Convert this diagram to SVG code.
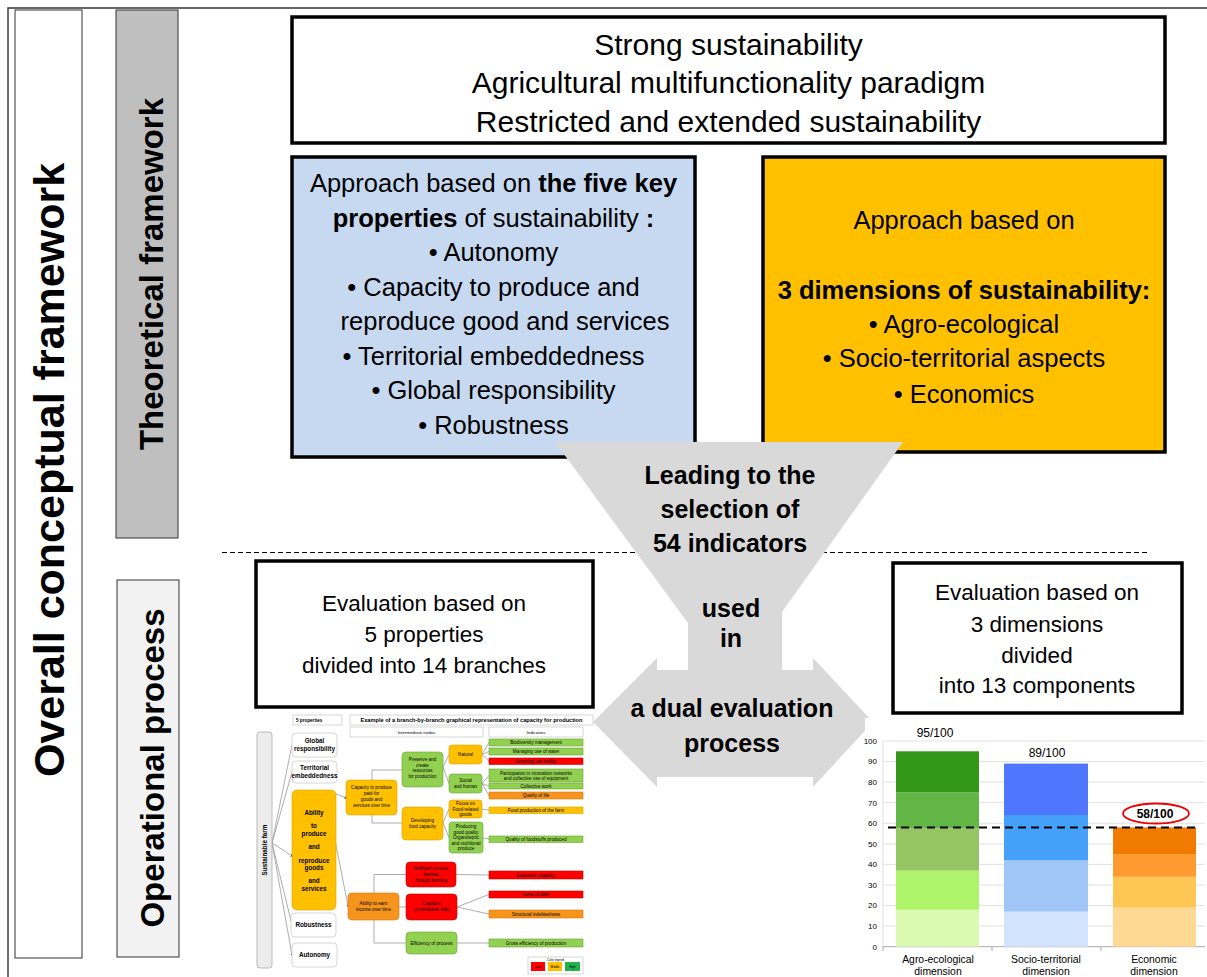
<svg xmlns="http://www.w3.org/2000/svg" width="1207" height="977" viewBox="0 0 1207 977">
<style>
text{font-family:"Liberation Sans",Arial,sans-serif;fill:#000}
.c{text-anchor:middle}
.b{font-weight:bold}
.big{stroke:#000;stroke-width:3.5}
.ln{stroke:#999;stroke-width:0.8;fill:none}
.tn{font-size:4.6px}
.tb{font-size:6.3px;font-weight:bold}
.g{fill:#92d050;stroke:#6aa336;stroke-width:0.6}
.o{fill:#ffc000;stroke:#d9a300;stroke-width:0.6}
.do{fill:#f7941d;stroke:#d07a10;stroke-width:0.6}
.r{fill:#ff0000;stroke:#c00000;stroke-width:0.6}
.w{fill:#fff;stroke:#ccc;stroke-width:0.8}
.grid{stroke:#d9d9d9;stroke-width:0.8}
.ax{font-size:8px;text-anchor:end;fill:#333}
</style>
<defs>
<marker id="dot" markerWidth="3" markerHeight="3" refX="1.5" refY="1.5" orient="auto" markerUnits="userSpaceOnUse"><path d="M0,0 L3,1.5 L0,3 z" fill="#555"/></marker>
</defs>

<g id="frame">
<path d="M8,977 V8 H1207" fill="none" stroke="#333" stroke-width="1.4"/>
<rect x="15" y="10" width="67" height="948" fill="#fff" stroke="#333" stroke-width="1"/>
<text class="b c" font-size="43" transform="translate(64,470) rotate(-90)">Overall conceptual framework</text>
</g>

<g id="theoretical-label">
<rect x="116" y="10" width="62" height="528" fill="#bfbfbf" stroke="#333" stroke-width="1"/>
<text class="b c" font-size="33" transform="translate(163,274) rotate(-90)">Theoretical framework</text>
</g>

<g id="operational-label">
<rect x="117" y="580" width="62" height="377" fill="#f2f2f2" stroke="#333" stroke-width="1"/>
<text class="b c" font-size="33" transform="translate(164,768) rotate(-90)">Operational process</text>
</g>

<g id="paradigms">
<rect class="big" x="292" y="17" width="873" height="126" fill="#fff"/>
<text class="c" font-size="30" x="728.5" y="55">Strong sustainability</text>
<text class="c" font-size="30" x="728.5" y="93">Agricultural multifunctionality paradigm</text>
<text class="c" font-size="30" x="728.5" y="132">Restricted and extended sustainability</text>
</g>

<g id="five-properties">
<rect class="big" x="292" y="157" width="403" height="300" fill="#c6d9f1"/>
<g font-size="25.5">
<text class="c" x="493.5" y="192">Approach based on <tspan font-weight="bold">the five key</tspan></text>
<text class="c" x="493.5" y="227"><tspan font-weight="bold">properties</tspan> of sustainability <tspan font-weight="bold">:</tspan></text>
<text class="c" x="493.5" y="261">•  Autonomy</text>
<text class="c" x="493.5" y="296">•  Capacity to produce and</text>
<text class="c" x="505" y="330">reproduce good and services</text>
<text class="c" x="493.5" y="365">•  Territorial embeddedness</text>
<text class="c" x="493.5" y="399">•  Global responsibility</text>
<text class="c" x="493.5" y="434">•  Robustness</text>
</g>
</g>

<g id="three-dimensions">
<rect class="big" x="763" y="157" width="402" height="295" fill="#ffc000"/>
<g font-size="25.5">
<text class="c" x="964" y="229">Approach based on</text>
<text class="c b" x="964" y="299">3 dimensions of sustainability:</text>
<text class="c" x="964" y="333">•  Agro-ecological</text>
<text class="c" x="964" y="367">•  Socio-territorial aspects</text>
<text class="c" x="964" y="403">•  Economics</text>
</g>
</g>

<g id="connectors">
<line x1="222" y1="552.5" x2="1150" y2="552.5" stroke="#000" stroke-width="1" stroke-dasharray="5 3"/>
</g>

<g id="eval-properties">
<rect class="big" x="256" y="561" width="337" height="146" fill="#fff"/>
<g font-size="22.5">
<text class="c" x="424" y="611">Evaluation based on</text>
<text class="c" x="424" y="642">5 properties</text>
<text class="c" x="424" y="673">divided into 14 branches</text>
</g>
</g>

<g id="eval-dimensions">
<rect class="big" x="893" y="563" width="289" height="150" fill="#fff"/>
<g font-size="22.5">
<text class="c" x="1037" y="600">Evaluation based on</text>
<text class="c" x="1037" y="632">3 dimensions</text>
<text class="c" x="1037" y="663">divided</text>
<text class="c" x="1037" y="693">into 13 components</text>
</g>
</g>

<g id="funnel">
<polygon points="555,442 903,442 782,612 782,670 813,670 813,658 873,722 813,787 813,777 657,777 657,787 593,722 657,658 657,670 688,670 688,623" fill="#d9d9d9"/>
<g font-size="25" font-weight="bold">
<text class="c" x="730" y="484">Leading to the</text>
<text class="c" x="730" y="518">selection of</text>
<text class="c" x="730" y="552">54 indicators</text>
<text class="c" x="731" y="617">used</text>
<text class="c" x="731" y="647">in</text>
<text class="c" x="732" y="717">a dual evaluation</text>
<text class="c" x="732" y="752">process</text>
</g>
</g>

<g id="tree">
<g id="tree-headers">
<rect class="w" x="293" y="715" width="49" height="10"/>
<text class="b" font-size="4.6" x="296" y="721.6">5 properties</text>
<rect class="w" x="350" y="715" width="243" height="10"/>
<text class="b c" font-size="5" x="471.5" y="721.8" textLength="222" lengthAdjust="spacingAndGlyphs">Example  of a branch-by-branch  graphical  representation  of capacity  for production</text>
<rect class="w" x="350" y="727" width="133" height="10"/>
<text class="c" font-size="4.4" x="416.5" y="733.5">Intermediate nodes</text>
<rect class="w" x="489" y="727" width="94" height="10"/>
<text class="c" font-size="4.4" x="536" y="733.5">Indicators</text>
</g>
<g id="tree-lines">
<path class="ln" d="M272,843 L292,745 M272,843 L292,772 M272,843 L292,925 M272,843 L292,955" marker-end="url(#dot)"/>
<path class="ln" d="M272,843 L292,856" marker-end="url(#dot)"/>
<path class="ln" d="M334,793 L346,798" marker-end="url(#dot)"/>
<path class="ln" d="M334,835 L348,906" marker-end="url(#dot)"/>
<path class="ln" d="M372,770 V823 M372,770 H402 M372,823 H402 M374,874.5 V943 M374,874.5 H406 M374,943 H406 M399,907 H406"/>
<path class="ln" d="M443,767 L449,754.5 M443,767 L449,783.5 M443,823 L449,809 M443,823 L449,837.5"/>
<path class="ln" d="M482,754.5 L489,742.5 M482,754.5 L489,751.5 M482,754.5 L489,761 M482,783.5 L489,775.5 M482,783.5 L489,786 M482,783.5 L489,795.5 M482,809 L489,810 M483,838 L489,839"/>
<path class="ln" d="M456,874.5 L489,875 M457,907 L489,894.5 M457,907 L489,914 M457,943 L489,943"/>
</g>
<g id="sustainable-farm">
<rect x="257" y="732" width="15" height="236" rx="3" fill="#ececec" stroke="#aaa" stroke-width="0.8"/>
<text class="b c" font-size="6.3" transform="translate(266.5,850) rotate(-90)">Sustainable farm</text>
</g>
<g id="p-global"><rect class="w" x="292" y="733" width="45" height="24" rx="4"/>
<text class="tb c" x="314.5" y="743">Global</text><text class="tb c" x="314.5" y="751">responsibility</text></g>
<g id="p-territorial"><rect class="w" x="292" y="761" width="45" height="22" rx="4"/>
<text class="tb c" x="314.5" y="770">Territorial</text><text class="tb c" x="314.5" y="778">embeddedness</text></g>
<g id="p-ability"><rect class="o" x="292" y="790" width="44" height="120" rx="5"/>
<g class="tb"><text class="c" x="314" y="815">Ability</text><text class="c" x="314" y="828">to</text><text class="c" x="314" y="835.5">produce</text>
<text class="c" x="314" y="849">and</text><text class="c" x="314" y="863">reproduce</text><text class="c" x="314" y="869.5">goods</text>
<text class="c" x="314" y="883">and</text><text class="c" x="314" y="890.5">services</text></g></g>
<g id="p-robustness"><rect class="w" x="291" y="913" width="45" height="24" rx="4"/>
<text class="tb c" x="313.5" y="927">Robustness</text></g>
<g id="p-autonomy"><rect class="w" x="292" y="943" width="45" height="24" rx="4"/>
<text class="tb c" x="314.5" y="957">Autonomy</text></g>

<g id="n-capacity"><rect class="o" x="346" y="780" width="51" height="35" rx="4"/>
<g class="tn"><text class="c" x="371.5" y="789">Capacity to produce</text><text class="c" x="371.5" y="795">paid-for</text><text class="c" x="371.5" y="801">goods and</text><text class="c" x="371.5" y="807">services over time</text></g></g>
<g id="n-earn"><rect class="do" x="348" y="893" width="51" height="27" rx="4"/>
<g class="tn"><text class="c" x="373.5" y="905">Ability to earn</text><text class="c" x="373.5" y="911">income over time</text></g></g>
<g id="n-preserve"><rect class="g" x="402" y="752" width="41" height="35" rx="4"/>
<g class="tn"><text class="c" x="422.5" y="761">Preserve and</text><text class="c" x="422.5" y="766.5">create</text><text class="c" x="422.5" y="772">resources</text><text class="c" x="422.5" y="777.5">for production</text></g></g>
<g id="n-developing"><rect class="o" x="402" y="807" width="41" height="33" rx="4"/>
<g class="tn"><text class="c" x="422.5" y="822">Developing</text><text class="c" x="422.5" y="828">food capacity</text></g></g>
<g id="n-sufficient"><rect class="r" x="406" y="862" width="50" height="25" rx="4"/>
<g class="tn"><text class="c" x="431" y="870">Sufficient income</text><text class="c" x="431" y="876">derived</text><text class="c" x="431" y="882">through farming</text></g></g>
<g id="n-reimburse"><rect class="r" x="406" y="894" width="51" height="26" rx="4"/>
<g class="tn"><text class="c" x="431.5" y="905">Capacity</text><text class="c" x="431.5" y="911">to reimburse debt</text></g></g>
<g id="n-efficiency"><rect class="g" x="406" y="932" width="51" height="22" rx="4"/>
<text class="tn c" x="431.5" y="944.5">Efficiency of process</text></g>

<g id="n-natural"><rect class="o" x="449" y="745" width="33" height="19" rx="3"/><text class="tn c" x="465.5" y="756">Natural</text></g>
<g id="n-social"><rect class="g" x="449" y="774" width="33" height="19" rx="3"/>
<text class="tn c" x="465.5" y="782">Social</text><text class="tn c" x="465.5" y="788">and human</text></g>
<g id="n-focus"><rect class="o" x="449" y="800" width="33" height="18" rx="3"/>
<text class="tn c" x="465.5" y="805">Focus on</text><text class="tn c" x="465.5" y="810.5">Food-related</text><text class="tn c" x="465.5" y="816">goods</text></g>
<g id="n-producing"><rect class="g" x="449" y="822" width="34" height="31" rx="3"/>
<g class="tn"><text class="c" x="466" y="828">Producing</text><text class="c" x="466" y="833.5">good quality</text><text class="c" x="466" y="839">Organoleptic</text><text class="c" x="466" y="844.5">and nutritional</text><text class="c" x="466" y="850">produce</text></g></g>

<g id="indicators" class="tn">
<rect class="g" x="489" y="739" width="94" height="7"/><text class="c" x="536" y="744.3">Biodiversity management</text>
<rect class="g" x="489" y="748" width="94" height="7"/><text class="c" x="536" y="753.3">Managing use of water</text>
<rect class="r" x="489" y="758" width="94" height="6.5"/><text class="c" x="536" y="763">Ensuring soil fertility</text>
<rect class="g" x="489" y="769" width="94" height="13"/><text class="c" x="536" y="774.5">Participation in innovation networks</text><text class="c" x="536" y="779.8">and collective use of equipment</text>
<rect class="g" x="489" y="783" width="94" height="6"/><text class="c" x="536" y="787.8">Collective work</text>
<rect class="do" x="489" y="792" width="94" height="7"/><text class="c" x="536" y="797.3">Quality of life</text>
<rect class="o" x="489" y="807" width="94" height="6.5"/><text class="c" x="536" y="812">Food production of the farm</text>
<rect class="g" x="489" y="836" width="94" height="6.5"/><text class="c" x="536" y="841">Quality of foodstuffs produced</text>
<rect class="r" x="489" y="871" width="94" height="8"/><text class="c" x="536" y="876.8">Economic capacity</text>
<rect class="r" x="489" y="891" width="94" height="7"/><text class="c" x="536" y="896.3">Level of debt</text>
<rect class="do" x="489" y="910" width="94" height="8"/><text class="c" x="536" y="915.8">Structural  indebtedness</text>
<rect class="g" x="489" y="939" width="94" height="8"/><text class="c" x="536" y="944.8">Gross efficiency of production</text>
</g>
<g id="legend">
<rect class="w" x="528" y="957" width="55" height="17"/>
<text class="c" font-size="3" x="555.5" y="960.5">Color legend</text>
<rect x="531" y="962" width="14" height="9" fill="#ff0000"/><text class="c" font-size="3" x="538" y="967.5">Low</text>
<rect x="548" y="962" width="14" height="9" fill="#ffc000"/><text class="c" font-size="3" x="555" y="967.5">Middle</text>
<rect x="565" y="962" width="15" height="9" fill="#22b14c"/><text class="c" font-size="3" x="572.5" y="967.5">High</text>
</g>
</g>

<g id="chart">
<rect x="865" y="718" width="342" height="259" fill="#fff"/>
<g class="grid">
<line x1="883" y1="741" x2="1205" y2="741"/><line x1="883" y1="761.6" x2="1205" y2="761.6"/>
<line x1="883" y1="782.1" x2="1205" y2="782.1"/><line x1="883" y1="802.7" x2="1205" y2="802.7"/>
<line x1="883" y1="823.3" x2="1205" y2="823.3"/><line x1="883" y1="843.9" x2="1205" y2="843.9"/>
<line x1="883" y1="864.4" x2="1205" y2="864.4"/><line x1="883" y1="885" x2="1205" y2="885"/>
<line x1="883" y1="905.6" x2="1205" y2="905.6"/><line x1="883" y1="926.1" x2="1205" y2="926.1"/>
<line x1="883" y1="741" x2="883" y2="947"/>
</g>
<line x1="883" y1="946.7" x2="1205" y2="946.7" stroke="#aaa" stroke-width="1"/>
<path d="M883,947 V951 M992,947 V951 M1101,947 V951" stroke="#aaa" stroke-width="1"/>
<g class="ax">
<text x="877" y="743.8">100</text><text x="877" y="764.4">90</text><text x="877" y="784.9">80</text>
<text x="877" y="805.5">70</text><text x="877" y="826.1">60</text><text x="877" y="846.7">50</text>
<text x="877" y="867.2">40</text><text x="877" y="887.8">30</text><text x="877" y="908.4">20</text>
<text x="877" y="928.9">10</text><text x="877" y="949.5">0</text>
</g>
<g id="bar-agro">
<rect x="896" y="909.7" width="83" height="37" fill="#dcf9b1"/>
<rect x="896" y="870.6" width="83" height="39.1" fill="#aef46a"/>
<rect x="896" y="828.4" width="83" height="42.2" fill="#95c563"/>
<rect x="896" y="792.4" width="83" height="36" fill="#62b645"/>
<rect x="896" y="751.3" width="83" height="41.1" fill="#339818"/>
</g>
<g id="bar-socio">
<rect x="1004" y="911.7" width="84" height="35" fill="#d2e4fd"/>
<rect x="1004" y="860.3" width="84" height="51.4" fill="#a0c6f8"/>
<rect x="1004" y="815" width="84" height="45.3" fill="#44a0f8"/>
<rect x="1004" y="763.6" width="84" height="51.4" fill="#4e77fe"/>
</g>
<g id="bar-eco">
<rect x="1113" y="907.6" width="83" height="39.1" fill="#fdd993"/>
<rect x="1113" y="876.8" width="83" height="30.8" fill="#ffc654"/>
<rect x="1113" y="854.1" width="83" height="22.7" fill="#fd9b30"/>
<rect x="1113" y="827.4" width="83" height="26.7" fill="#f17a00"/>
</g>
<line x1="888" y1="827.4" x2="1198" y2="827.4" stroke="#000" stroke-width="2" stroke-dasharray="8 5"/>
<text class="c" font-size="12" x="935" y="736.5" fill="#222">95/100</text>
<text class="c" font-size="12" x="1047" y="756.5" fill="#222">89/100</text>
<ellipse cx="1156" cy="813.5" rx="33" ry="10" fill="none" stroke="#e00" stroke-width="1.8"/>
<text class="c b" font-size="12" x="1155" y="818">58/100</text>
<g font-size="10.4" fill="#222">
<text class="c" x="938" y="963.3">Agro-ecological</text><text class="c" x="938" y="975">dimension</text>
<text class="c" x="1046" y="963.3">Socio-territorial</text><text class="c" x="1046" y="975">dimension</text>
<text class="c" x="1154" y="963.3">Economic</text><text class="c" x="1154" y="975">dimension</text>
</g>
</g>
</svg>
